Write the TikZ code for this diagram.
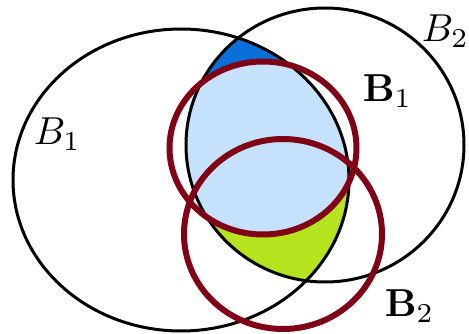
\documentclass[tikz,border=0pt]{standalone}
\definecolor{dkblue}{RGB}{8,112,216}
\definecolor{ltblue}{RGB}{197,225,251}
\definecolor{limegr}{RGB}{181,227,30}
\definecolor{darkred}{RGB}{128,0,22}
\begin{document}
\begin{tikzpicture}[x=1pt,y=-1pt,
  blackset/.style={draw=black,line width=3pt},
  redset/.style={draw=darkred,line width=6pt},
  lbl/.style={anchor=base west,inner sep=0pt,scale=3.9}]
\useasboundingbox (0,0) rectangle (469,334);
% shaded regions
\begin{scope}
  \clip (181,180) ellipse [x radius=168pt, y radius=151pt];
  \clip (325,145) ellipse [x radius=139pt, y radius=137pt];
  \fill[dkblue] (0,0) rectangle (469,334);
  \fill[limegr] (283,234) ellipse [x radius=99pt, y radius=95pt];
  \fill[ltblue] (263,148) ellipse [x radius=93.5pt, y radius=86.5pt];
\end{scope}
% black sets
\draw[blackset] (181,180) ellipse [x radius=168pt, y radius=151pt];
\draw[blackset] (325,145) ellipse [x radius=139pt, y radius=137pt];
% red sets
\draw[redset] (263,148) ellipse [x radius=93.5pt, y radius=86.5pt];
\draw[redset] (283,234) ellipse [x radius=99pt, y radius=95pt];
% labels
\node[lbl] (lB1) at (33,145) {$B_1$};
\node[lbl] (lB2) at (421,41.5) {$B_2$};
\node[lbl] (lbB1) at (362,101.5) {$\mathbf{B}_1$};
\node[lbl] (lbB2) at (384,316.5) {$\mathbf{B}_2$};
\end{tikzpicture}
\end{document}
